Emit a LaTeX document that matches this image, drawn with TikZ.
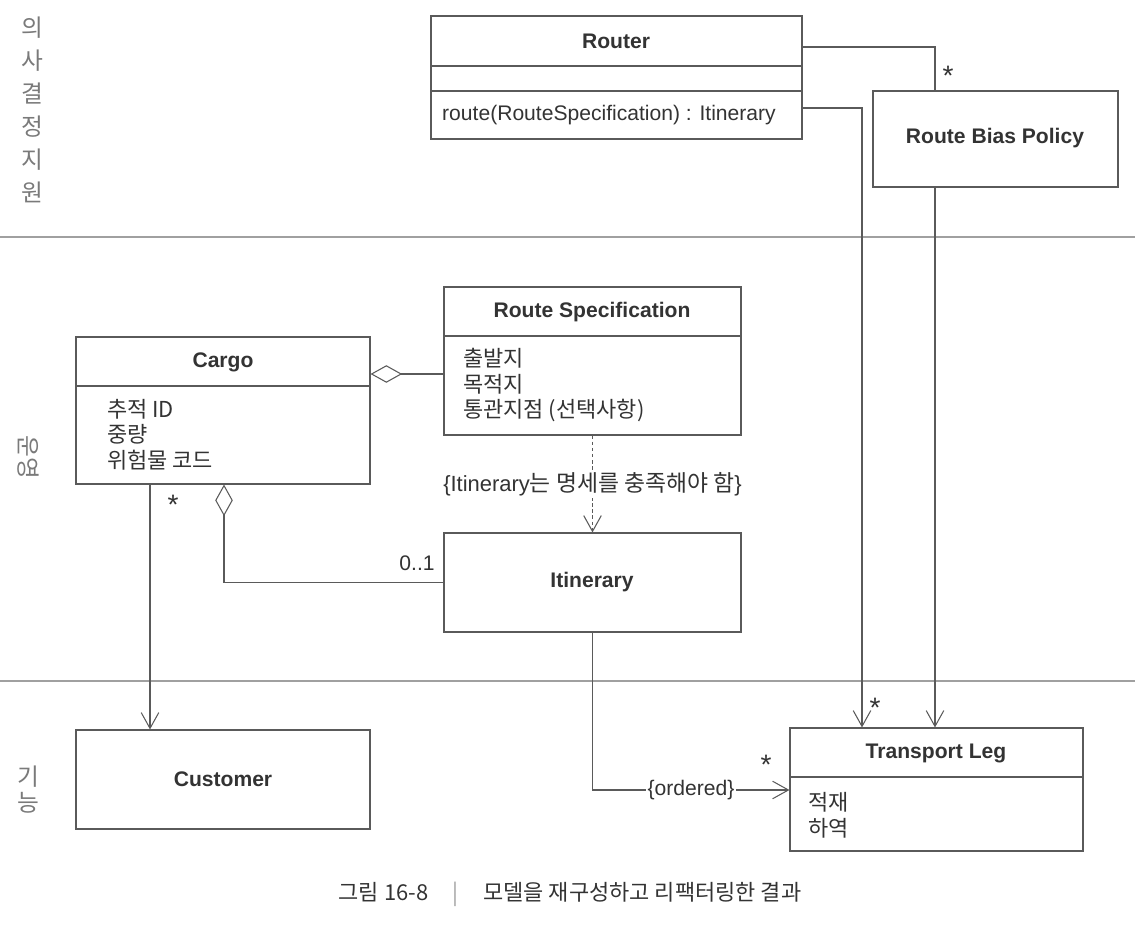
\documentclass[tikz,border=0pt]{standalone}
\usepackage{fontspec}
\setmainfont{Liberation Sans}
\newfontfamily\kr{Noto Sans CJK KR}
\usetikzlibrary{arrows.meta,fit}
\definecolor{linegray}{HTML}{5A5A5A}
\definecolor{inkgray}{HTML}{333333}
\definecolor{sidegray}{HTML}{7A7A7A}
\definecolor{sepgray}{HTML}{A0A0A0}

\tikzset{
  classbox/.style={draw=linegray, line width=0.6pt, inner sep=0pt},
  classname/.style={font=\fontsize{12}{14}\selectfont\bfseries, text=inkgray},
  member/.style={font=\kr\fontsize{12.5}{14}\selectfont, text=inkgray, anchor=west},
  link/.style={draw=linegray, line width=0.6pt},
  navig/.style={link, -{Straight Barb[length=9pt,width=10pt]}},
  aggr/.style={link, {Diamond[open,length=18pt,width=10pt]}-},
  depend/.style={navig, dash pattern=on 2pt off 1.5pt},
  multlabel/.style={font=\fontsize{12}{14}\selectfont, text=inkgray},
  starlabel/.style={font=\fontsize{16}{16}\selectfont, text=inkgray},
  layerline/.style={draw=sepgray, line width=1.7pt},
  layerlabel/.style={font=\kr\fontsize{13.5}{15}\selectfont, text=sidegray},
}

\begin{document}
\begin{tikzpicture}[x=0.02cm, y=-0.02cm]
\useasboundingbox (0,0) rectangle (1140,929);
% layer boundaries
\draw[layerline] (0,237) -- (1135,237);
\draw[layerline] (0,681) -- (1135,681);

% decision support
\foreach \ch [count=\i] in {의,사,결,정,지,원}
  \node[layerlabel] (decision\i) at (32,{28+32.8*(\i-1)}) {\ch};
\node[classbox, fit={(431,16)(802,139)}] (router) {};
\draw[link] (431,66) -- (802,66) (431,91) -- (802,91);
\node[classname] (routername) at (616,41) {Router};
\node[font=\fontsize{12}{14}\selectfont, text=inkgray, anchor=west] (routeop) at (436,115) {route(RouteSpecification) : Itinerary};
\node[classbox, fit={(873,91)(1118,187)}] (bias) {};
\node[classname] (biasname) at (995,138) {Route Bias Policy};

% operations
\node[layerlabel, rotate=-90] (ops) at (28,457) {운영};
\node[classbox, fit={(444,287)(741,435)}] (spec) {};
\draw[link] (444,336) -- (741,336);
\node[classname] (specname) at (592,312) {Route Specification};
\node[member] (spec1) at (457,358) {출발지};
\node[member] (spec2) at (457,384) {목적지};
\node[member] (spec3) at (457,410) {통관지점 (선택사항)};

\node[classbox, fit={(76,337)(370,484)}] (cargo) {};
\draw[link] (76,386) -- (370,386);
\node[classname] (cargoname) at (223,362) {Cargo};
\node[member] (cargo1) at (101,409) {추적 ID};
\node[member] (cargo2) at (101,434.5) {중량};
\node[member] (cargo3) at (101,460) {위험물 코드};

\node[classbox, fit={(444,533)(741,632)}] (itin) {};
\node[classname] (itinname) at (592,582) {Itinerary};

% capability
\node[layerlabel] (func1) at (28,777) {기};
\node[layerlabel] (func2) at (28,803) {능};
\node[classbox, fit={(76,730)(370,829)}] (cust) {};
\node[classname] (custname) at (223,779) {Customer};
\node[classbox, fit={(790,728)(1083,851)}] (tleg) {};
\draw[link] (790,777) -- (1083,777);
\node[classname] (tlegname) at (936,753) {Transport Leg};
\node[member] (tleg1) at (802,802) {적재};
\node[member] (tleg2) at (802,828) {하역};

% associations
\draw[link] (router.east |- 0,47) -| (bias.north -| 935,0);
\draw[navig] (router.east |- 0,108) -| (tleg.north -| 862,0);
\draw[navig] (bias.south -| 935,0) -- (tleg.north -| 935,0);
\draw[aggr] (cargo.east |- 0,374) -- (spec.west |- 0,374);
\draw[depend] (spec.south) -- node[fill=white, inner sep=1pt, font=\fontsize{12.5}{14}\selectfont, text=inkgray] (specnote) {\{Itinerary{\kr\fontsize{13}{14}\selectfont 는 명세를 충족해야 함}\}} (itin.north);
\draw[aggr] (cargo.south -| 224,0) |- (itin.west);
\draw[navig] (cargo.south -| 150,0) -- (cust.north -| 150,0);
\draw[navig] (itin.south) |- node[pos=0.75, fill=white, inner sep=1pt, font=\fontsize{12}{14}\selectfont, text=inkgray] (ordered) {\{ordered\}} (tleg.west |- 0,790);

\node[starlabel] (mult1) at (948,76) {*};
\node[starlabel] (mult2) at (875,708) {*};
\node[starlabel] (mult3) at (766,765) {*};
\node[starlabel] (mult4) at (173,505) {*};
\node[multlabel] (mult5) at (417,563) {0..1};

% caption
\node[font=\kr\fontsize{12.5}{14}\selectfont, text=inkgray] (caption) at (570,894) {그림 16-8\hspace{14pt}{\color{sepgray}|}\hspace{14pt}모델을 재구성하고 리팩터링한 결과};
\end{tikzpicture}
\end{document}
